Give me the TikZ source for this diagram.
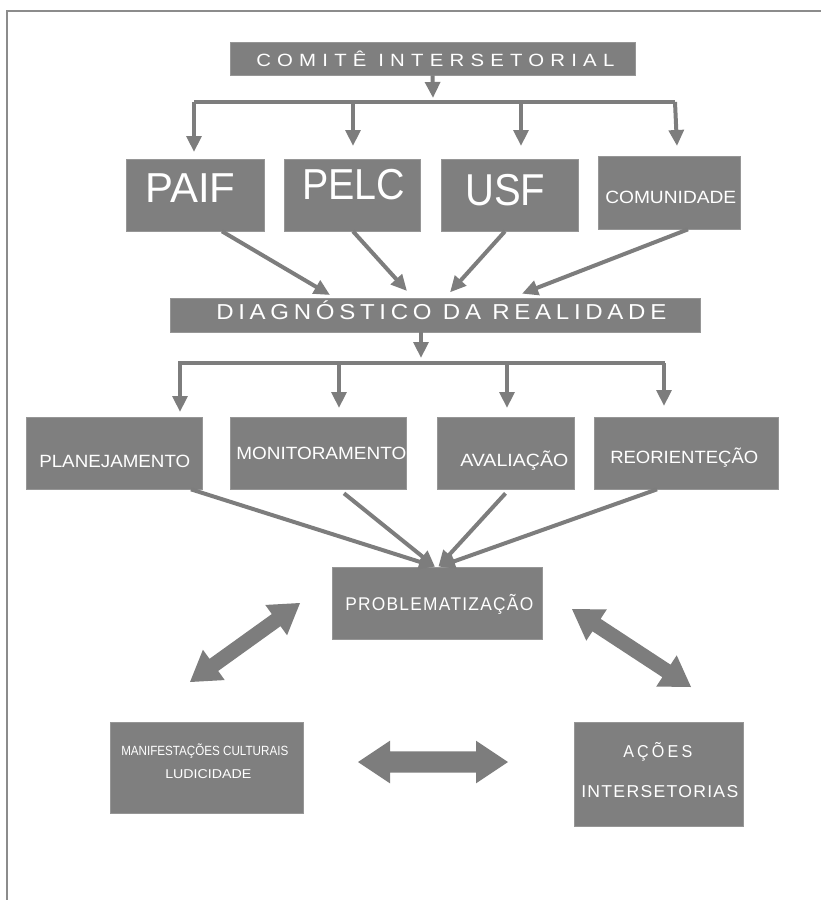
\documentclass[tikz,border=0pt]{standalone}
\usepackage{fontspec}
\setmainfont{Liberation Sans}
\newfontfamily\nA[FakeStretch=0.82]{Liberation Sans}
\newfontfamily\nB[FakeStretch=0.82,LetterSpace=6]{Liberation Sans}
\newfontfamily\nC[FakeStretch=0.82,LetterSpace=16]{Liberation Sans}
\newfontfamily\nD[FakeStretch=0.82,LetterSpace=25]{Liberation Sans}
\usetikzlibrary{arrows.meta,calc}
\newdimen\upx \upx=0.75pt
\newcommand\fitw[2]{\resizebox{#1\upx}{\height}{#2}}
\newcommand\fs[1]{\fontsize{#1}{#1}}
\definecolor{boxgray}{RGB}{127,127,127}
\definecolor{edgegray}{RGB}{150,150,150}
\definecolor{arrgray}{RGB}{125,125,125}
\definecolor{framegray}{RGB}{140,140,140}
\newcommand\boxnode[5]{\node[box, minimum width={(#4-#2)*0.75pt}, minimum height={(#5-#3)*0.75pt}] (#1) at ({(#2+#4)/2},{(#3+#5)/2}) {};}
\newcommand\blockarrow[5]{%
  \coordinate (ba1) at ($(#1)!#3!(#2)$);
  \coordinate (ba2) at ($(#2)!#3!(#1)$);
  \fill[arrgray] (#1) -- ($(ba1)!#4!90:(#2)$) -- ($(ba1)!#5!90:(#2)$) -- ($(ba2)!#5!-90:(#1)$) -- ($(ba2)!#4!-90:(#1)$) -- (#2) -- ($(ba2)!#4!90:(#1)$) -- ($(ba2)!#5!90:(#1)$) -- ($(ba1)!#5!-90:(#2)$) -- ($(ba1)!#4!-90:(#2)$) -- cycle;}
\begin{document}
\begin{tikzpicture}[x=0.75pt,y=-0.75pt,
  box/.style={rectangle, fill=boxgray, draw=edgegray, line width=0.5pt, inner sep=0pt},
  txt/.style={anchor=base west, inner sep=0pt, text=white},
  conn/.style={draw=arrgray, line width=3pt, -{Triangle[length=12pt,width=11pt]}},
  barline/.style={draw=arrgray, line width=3pt}]
\useasboundingbox (0,0) rectangle (821,900);
% frame
\draw[framegray, line width=1.5pt] (7,900) -- (7,11) -- (821,11);

% boxes
\boxnode{comite}{230}{42}{635}{75}
\boxnode{paif}{126}{159}{264}{231}
\boxnode{pelc}{284}{159}{420}{231}
\boxnode{usf}{441}{159}{578}{231}
\boxnode{comu}{598}{156}{740}{229}
\boxnode{diag}{170}{298}{700}{332}
\boxnode{plan}{26}{417}{202}{489}
\boxnode{moni}{230}{417}{406}{489}
\boxnode{aval}{437}{417}{574}{489}
\boxnode{reor}{594}{417}{778}{489}
\boxnode{prob}{332}{567}{542}{639}
\boxnode{manif}{110}{722}{303}{813}
\boxnode{acoes}{574}{722}{743}{826}

% texts
\node[txt] (t-comite) at (256,66) {\fs{13.3}\nD\fitw{358}{COMITÊ INTERSETORIAL}};
\node[txt] (t-paif) at (145,202) {\fs{31.4}\nA\fitw{90}{PAIF}};
\node[txt] (t-pelc) at (302,199) {\fs{32.5}\nA\fitw{103}{PELC}};
\node[txt] (t-usf) at (465,205) {\fs{33.5}\nA\fitw{80}{USF}};
\node[txt] (t-comu) at (605,203) {\fs{13.3}\nA\fitw{131}{COMUNIDADE}};
\node[txt] (t-diag) at (216,319.5) {\fs{16.2}\nC\fitw{450}{DIAGNÓSTICO DA REALIDADE}};
\node[txt] (t-plan) at (39,467.5) {\fs{13.3}\nA\fitw{151}{PLANEJAMENTO}};
\node[txt] (t-moni) at (236,459) {\fs{13.3}\nA\fitw{170}{MONITORAMENTO}};
\node[txt] (t-aval) at (460,466.7) {\fs{13.3}\nA\fitw{108}{AVALIAÇÃO}};
\node[txt] (t-reor) at (610,463) {\fs{13.3}\nA\fitw{148}{REORIENTEÇÃO}};
\node[txt] (t-prob) at (345,610) {\fs{13.8}\nB\fitw{188}{PROBLEMATIZAÇÃO}};
\node[txt] (t-manif) at (121,755.5) {\fs{10}\nA\fitw{167}{MANIFESTAÇÕES CULTURAIS}};
\node[txt] (t-ludi) at (165,778.5) {\fs{9.6}\nA\fitw{86}{LUDICIDADE}};
\node[txt] (t-acoes) at (623,757) {\fs{12.9}\nC\fitw{69}{AÇÕES}};
\node[txt] (t-inter) at (581,797) {\fs{12.9}\nB\fitw{157}{INTERSETORIAS}};

% top distribution
\coordinate (b1l) at (194,102);
\coordinate (b1r) at (675,102);
\coordinate (c1) at (433,98);
\draw[conn] (comite.south) -- (c1);
\draw[barline] (b1l) -- (b1r);
\coordinate (d1) at (194,152);
\coordinate (d2) at (353,146);
\coordinate (d3) at (521,146);
\coordinate (d4) at (677,146);
\draw[conn] (b1l) -- (d1);
\draw[conn] (d2 |- b1l) -- (d2);
\draw[conn] (d3 |- b1l) -- (d3);
\draw[conn] (b1r) -- (d4);

% to diagnostico
\draw[conn] ([xshift=20.25pt]paif.south) -- ([xshift=-78.75pt,yshift=2pt]diag.north);
\draw[conn] ([xshift=0.75pt]pelc.south) -- ([xshift=-21pt,yshift=5pt]diag.north);
\draw[conn] ([xshift=-3.4pt]usf.south) -- ([xshift=11.25pt,yshift=4pt]diag.north);
\draw[conn] ([xshift=14.25pt]comu.south) -- ([xshift=65.25pt,yshift=3pt]diag.north);

% second distribution
\coordinate (b2l) at (178,363);
\coordinate (b2r) at (665,363);
\coordinate (c2) at (421,358);
\draw[conn] ([xshift=-10.5pt]diag.south) -- (c2);
\draw[barline] (b2l) -- (b2r);
\coordinate (e1) at (180,412);
\coordinate (e2) at (339,408);
\coordinate (e3) at (507,408);
\coordinate (e4) at (664,406);
\draw[conn] (e1 |- b2l) -- (e1);
\draw[conn] (e2 |- b2l) -- (e2);
\draw[conn] (e3 |- b2l) -- (e3);
\draw[conn] (e4 |- b2r) -- (e4);

% to problematizacao
\draw[conn] ([xshift=57.75pt]plan.south) -- ([xshift=-1.5pt]prob.north);
\draw[conn] ([xshift=19.5pt,yshift=-3pt]moni.south) -- ([xshift=-1.5pt]prob.north);
\draw[conn] ([yshift=-3pt]aval.south) -- ([xshift=1pt]prob.north);
\draw[conn] ([xshift=-21.75pt]reor.south) -- ([xshift=1.5pt]prob.north);

% block double arrows
\coordinate (la1) at (190,682);
\coordinate (la2) at (300,603);
\coordinate (ra1) at (572,609);
\coordinate (ra2) at (691,687);
\coordinate (ha1) at (358,762);
\coordinate (ha2) at (508,762);
\blockarrow{la1}{la2}{22pt}{14pt}{5.6pt}
\blockarrow{ra1}{ra2}{22pt}{14pt}{5.6pt}
\blockarrow{ha1}{ha2}{24pt}{16pt}{8pt}
\end{tikzpicture}
\end{document}
